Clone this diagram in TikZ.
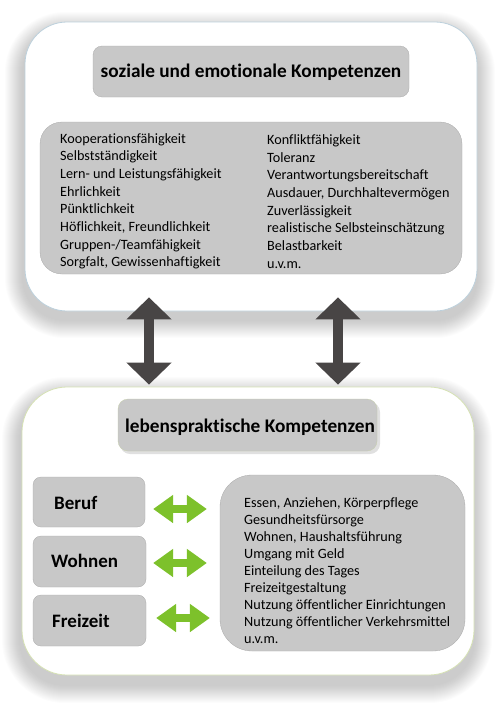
\documentclass[tikz,border=0pt]{standalone}
\usepackage{fontspec}
\setmainfont[Ligatures=NoCommon]{Carlito}
\usetikzlibrary{arrows.meta,calc}
\definecolor{boxgray}{HTML}{C8C8C8}
\definecolor{darkarr}{HTML}{484545}
\definecolor{greenarr}{HTML}{7DC12B}
\definecolor{topborder}{HTML}{BCD0DC}
\definecolor{botborder}{HTML}{D6E2B4}
\tikzset{
  outerbox/.style={draw=#1, line width=0.8pt, fill=white, rounded corners=42pt, inner sep=0pt},
  graybox/.style={fill=boxgray, draw=boxgray!85!black, line width=0.3pt, inner sep=0pt},
  titletxt/.style={font=\fontsize{19.3}{22}\selectfont\bfseries, inner sep=0pt, anchor=base},
  listtxt/.style={font=\fontsize{14.2}{17}\selectfont, inner sep=0pt, anchor=base west},
  cattxt/.style={font=\fontsize{19}{22}\selectfont\bfseries, inner sep=0pt, anchor=base west},
  darrow/.style={draw=darkarr, line width=10pt, {Triangle[width=44pt,length=22pt]}-{Triangle[width=44pt,length=22pt]}},
  garrow/.style={draw=greenarr, line width=8pt, {Triangle[width=27pt,length=20pt]}-{Triangle[width=27pt,length=20pt]}},
}
\begin{document}
\begin{tikzpicture}[x=1pt,y=-1pt]
\useasboundingbox (0,0) rectangle (500,704);
% soft shadows of the outer boxes
\foreach \r in {1,...,18}{
  \fill[black, opacity=0.012, rounded corners=42pt+\r pt] (25-\r-2, 22-\r+8) rectangle (477+\r, 311+\r+9);
  \fill[black, opacity=0.012, rounded corners=45pt+\r pt] (22-\r-2, 387-\r+8) rectangle (474+\r, 675+\r+10);
}
% outer boxes
\node[outerbox=topborder, minimum width=452pt, minimum height=289pt] (topbox) at (251,166.5) {};
\node[outerbox=botborder, rounded corners=45pt, minimum width=452pt, minimum height=288pt] (botbox) at (248,531) {};
% top title
\node[graybox, rounded corners=9pt, minimum width=316pt, minimum height=51pt] (t1box) at (251,71.5) {};
\node[titletxt] (t1) at (251,77) {soziale und emotionale Kompetenzen};
% top list
\node[graybox, rounded corners=22pt, minimum width=422pt, minimum height=152pt] (l1box) at (251,198) {};
\foreach \t [count=\i] in {Kooperationsfähigkeit, Selbstständigkeit, Lern- und Leistungsfähigkeit, Ehrlichkeit, Pünktlichkeit, {Höflichkeit, Freundlichkeit}, Gruppen-/Teamfähigkeit, {Sorgfalt, Gewissenhaftigkeit}}
  \node[listtxt] (la\i) at (60,143+\i*17.7-17.7) {\t};
\foreach \t [count=\i] in {Konfliktfähigkeit, Toleranz, Verantwortungsbereitschaft, {Ausdauer, Durchhaltevermögen}, Zuverlässigkeit, realistische Selbsteinschätzung, Belastbarkeit, u.v.m.}
  \node[listtxt] (lb\i) at (267,144.5+\i*17.65-17.65) {\t};
% dark connectors
\draw[darrow] ($(topbox.south)+(-102,-14)$) -- ($(botbox.north)+(-99,-2)$);
\draw[darrow] ($(topbox.south)+(87,-14)$) -- ($(botbox.north)+(90,-2)$);
% bottom title
\fill[black, opacity=0.12, rounded corners=10pt] (120,402) rectangle (380,454);
\node[graybox, draw=botborder!80!gray, rounded corners=10pt, minimum width=259pt, minimum height=52pt] (t2box) at (247.5,425) {};
\node[titletxt] (t2) at (250,432) {lebenspraktische Kompetenzen};
% category boxes
\node[graybox, rounded corners=8pt, minimum width=112pt, minimum height=50pt] (beruf) at (89,502) {};
\node[graybox, rounded corners=8pt, minimum width=113pt, minimum height=51pt] (wohnen) at (89.5,561.5) {};
\node[graybox, rounded corners=8pt, minimum width=113pt, minimum height=51pt] (freizeit) at (89.5,620.5) {};
\node[cattxt] (bt) at (54,509) {Beruf};
\node[cattxt] (wt) at (51,567) {Wohnen};
\node[cattxt] (ft) at (52,627) {Freizeit};
% right list
\node[graybox, rounded corners=32pt, minimum width=245pt, minimum height=176pt] (l2box) at (342.5,563) {};
\foreach \t [count=\i] in {{Essen, Anziehen, Körperpflege}, Gesundheitsfürsorge, {Wohnen, Haushaltsführung}, Umgang mit Geld, Einteilung des Tages, Freizeitgestaltung, Nutzung öffentlicher Einrichtungen, Nutzung öffentlicher Verkehrsmittel, u.v.m.}
  \node[listtxt] (lc\i) at (244,507+\i*17.03-17.03) {\t};
% green connectors
\draw[garrow] ($(beruf.east)+(8,7)$) -- ($(l2box.west |- beruf.east)+(-13,7)$);
\draw[garrow] ($(wohnen.east)+(7,1.5)$) -- ($(l2box.west |- wohnen.east)+(-13,1.5)$);
\draw[garrow] ($(freizeit.east)+(10,-2.5)$) -- ($(l2box.west |- freizeit.east)+(-10,-2.5)$);
\end{tikzpicture}
\end{document}
